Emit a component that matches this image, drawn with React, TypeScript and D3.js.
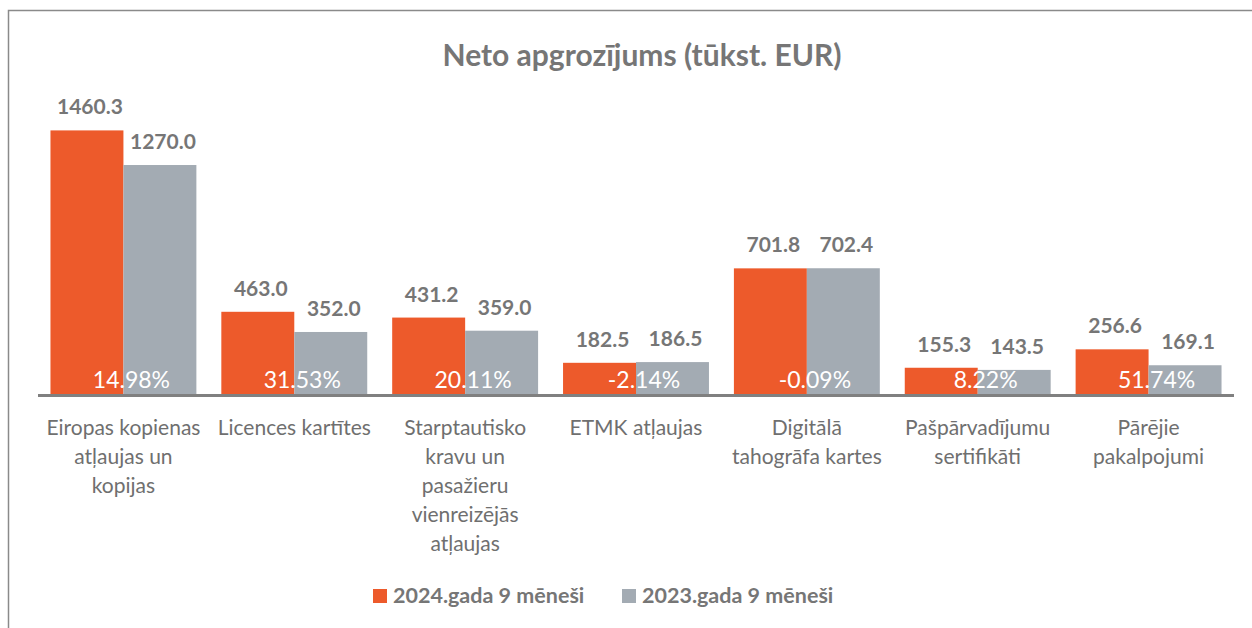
import React, { useEffect, useRef } from "react";
import * as d3 from "d3";

// chart data
const categories = [
  "Eiropas kopienas\natļaujas un\nkopijas",
  "Licences kartītes",
  "Starptautisko\nkravu un\npasažieru\nvienreizējās\natļaujas",
  "ETMK atļaujas",
  "Digitālā\ntahogrāfa kartes",
  "Pašpārvadījumu\nsertifikāti",
  "Pārējie\npakalpojumi",
];
const values2024 = [1460.3, 463.0, 431.2, 182.5, 701.8, 155.3, 256.6];
const values2023 = [1270.0, 352.0, 359.0, 186.5, 702.4, 143.5, 169.1];
const changePct = [14.98, 31.53, 20.11, -2.14, -0.09, 8.22, 51.74];
const seriesNames = ["2024.gada 9 mēneši", "2023.gada 9 mēneši"];
const seriesColors = ["#ED5A2B", "#A3ABB3"];
const title = "Neto apgrozījums (tūkst. EUR)";
const yDomain = [0, 1600];

const W = 1252;
const H = 628;
const FONT = "Lato, 'Open Sans', sans-serif";
const TEXT = "#767676";

const App = () => {
  const ref = useRef<SVGSVGElement | null>(null);

  useEffect(() => {
    const svg = d3.select(ref.current);
    svg.selectAll("*").remove();

    const x = d3
      .scaleBand()
      .domain(categories)
      .range([38, 1234])
      .paddingInner(0.146)
      .paddingOuter(0.073);
    const xs = d3
      .scaleBand()
      .domain(seriesNames)
      .range([0, x.bandwidth()]);
    const y = d3.scaleLinear().domain(yDomain).range([396, 105]);

    // frame
    svg
      .append("path")
      .attr("d", `M8.5,${H} V10.5 H${W}`)
      .attr("fill", "none")
      .attr("stroke", "#8a8a8a")
      .attr("stroke-width", 1.5);

    svg
      .append("text")
      .attr("x", 642)
      .attr("y", 66)
      .attr("text-anchor", "middle")
      .attr("font-family", FONT)
      .attr("font-weight", "bold")
      .attr("font-size", 30)
      .attr("fill", TEXT)
      .text(title);

    const rows = categories.map((c, i) => ({
      cat: c,
      vals: [values2024[i], values2023[i]],
      pct: changePct[i],
    }));

    const groups = svg
      .selectAll(".grp")
      .data(rows)
      .enter()
      .append("g")
      .attr("transform", (d) => `translate(${x(d.cat)},0)`);

    groups
      .selectAll("rect")
      .data((d) => d.vals.map((v, j) => ({ v, j })))
      .enter()
      .append("rect")
      .attr("x", (d) => xs(seriesNames[d.j]) as number)
      .attr("y", (d) => y(d.v))
      .attr("width", xs.bandwidth())
      .attr("height", (d) => y(0) - y(d.v))
      .attr("fill", (d) => seriesColors[d.j]);

    groups
      .selectAll(".val")
      .data((d) => d.vals.map((v, j) => ({ v, j })))
      .enter()
      .append("text")
      .attr("x", (d) => (xs(seriesNames[d.j]) as number) + xs.bandwidth() / 2 + 3)
      .attr("y", (d) => y(d.v) - 16)
      .attr("text-anchor", "middle")
      .attr("font-family", FONT)
      .attr("font-weight", "bold")
      .attr("font-size", 21)
      .attr("fill", TEXT)
      .text((d) => d.v.toFixed(1));

    // axis line
    svg
      .append("line")
      .attr("x1", 38)
      .attr("x2", 1234)
      .attr("y1", y(0) - 0.5)
      .attr("y2", y(0) - 0.5)
      .attr("stroke", "#808080")
      .attr("stroke-width", 3);

    groups
      .append("text")
      .attr("x", x.bandwidth() / 2 + 8)
      .attr("y", 388)
      .attr("text-anchor", "middle")
      .attr("font-family", FONT)
      .attr("font-size", 23)
      .attr("fill", "#ffffff")
      .text((d) => d.pct.toFixed(2) + "%");

    groups
      .append("text")
      .attr("text-anchor", "middle")
      .attr("font-family", FONT)
      .attr("font-size", 21)
      .attr("fill", "#6f6f6f")
      .selectAll("tspan")
      .data((d) => d.cat.split("\n"))
      .enter()
      .append("tspan")
      .attr("x", x.bandwidth() / 2)
      .attr("y", (d, i) => 435 + i * 29)
      .text((d) => d);

    // legend
    const legendX = [373, 622];
    const leg = svg
      .selectAll(".leg")
      .data(seriesNames)
      .enter()
      .append("g")
      .attr("transform", (d, i) => `translate(${legendX[i]},589)`);
    leg
      .append("rect")
      .attr("width", 14)
      .attr("height", 14)
      .attr("fill", (d, i) => seriesColors[i]);
    leg
      .append("text")
      .attr("x", 20)
      .attr("y", 14)
      .attr("font-family", FONT)
      .attr("font-weight", "bold")
      .attr("font-size", 21.5)
      .attr("fill", TEXT)
      .text((d) => d);
  }, []);

  return (
    <svg
      ref={ref}
      width={W}
      height={H}
      style={{ position: "absolute", left: 0, top: 0, background: "#fff" }}
    ></svg>
  );
};

export default App;
